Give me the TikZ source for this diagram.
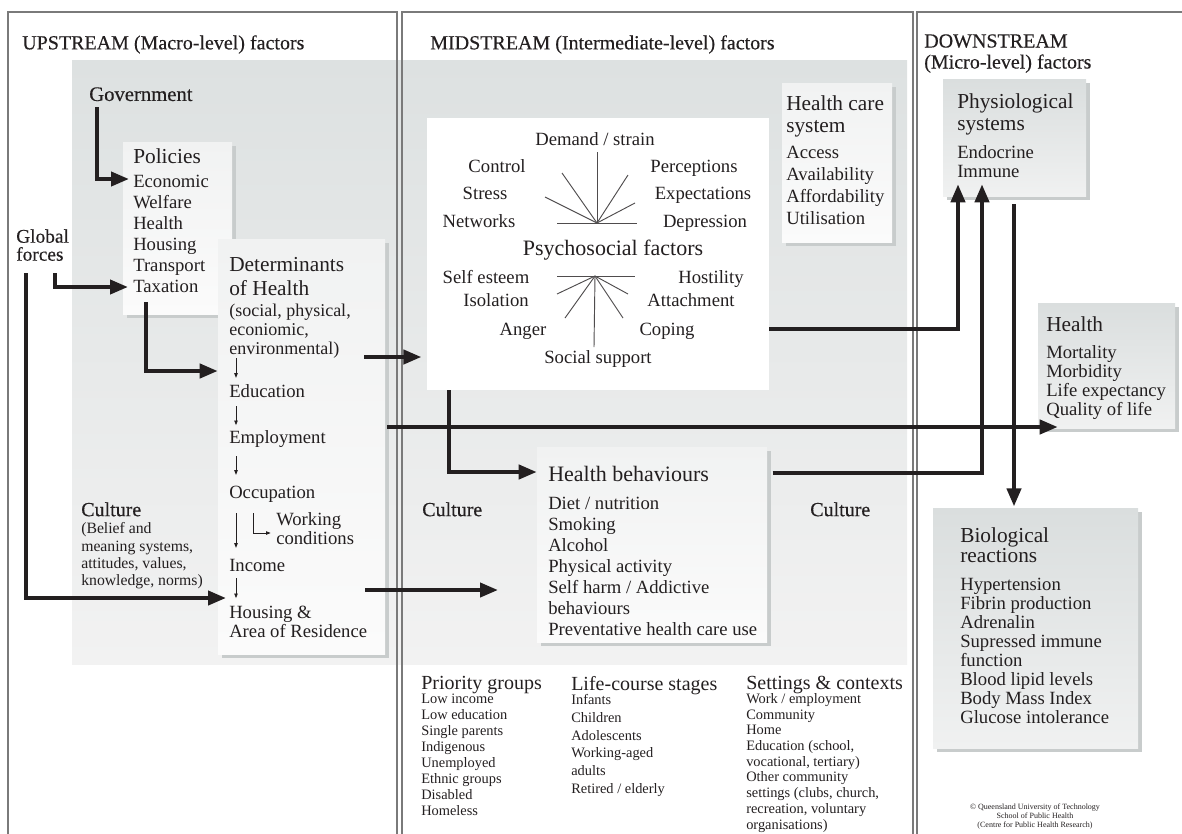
\documentclass[tikz,border=0pt]{standalone}
\usepackage{fontspec}
\setmainfont{Liberation Serif}
\newfontfamily\heavyserif[FakeBold=0.35]{Liberation Serif}
\usetikzlibrary{arrows.meta,fit,shadows}

\definecolor{ink}{HTML}{231F20}
\definecolor{bgtop}{HTML}{DDE1E1}
\definecolor{bgbot}{HTML}{F2F2F2}
\definecolor{boxtop}{HTML}{F1F2F2}
\definecolor{boxbot}{HTML}{FBFBFB}
\definecolor{dstop}{HTML}{DADEDE}
\definecolor{dsbot}{HTML}{F0F1F1}
\definecolor{shade}{HTML}{C8CCCC}
\definecolor{frame}{HTML}{7A7A7A}

\newcommand\fTitle{\heavyserif\fontsize{15}{15.75}\selectfont}
\newcommand\fHead{\fontsize{16}{16.5}\selectfont}
\newcommand\fList{\fontsize{14}{15.75}\selectfont}
\newcommand\fSub{\fontsize{13.5}{14.25}\selectfont}
\newcommand\fCult{\fontsize{11.8}{13}\selectfont}
\newcommand\fSmall{\fontsize{10.8}{12}\selectfont}
\newcommand\fCred{\fontsize{6}{6.75}\selectfont}

\begin{document}
\begin{tikzpicture}[x=0.75pt,y=-0.75pt,
    lbl/.style={anchor=north west,inner sep=0pt,align=left,text=ink},
    psyl/.style={anchor=base,inner sep=0pt,text=ink,font=\fList},
    ubox/.style={inner sep=0pt,top color=boxtop,bottom color=boxbot},
    sbox/.style={ubox,drop shadow={shadow xshift=3pt,shadow yshift=-3pt,fill=shade,opacity=1}},
    dbox/.style={inner sep=0pt,top color=dstop,bottom color=dsbot,
      drop shadow={shadow xshift=3pt,shadow yshift=-3pt,fill=shade,opacity=1}},
    col/.style={draw=frame,line width=0.9pt},
    big/.style={draw=ink,line width=3pt,-{Triangle[length=13.5pt,width=10.5pt]}},
    thinarr/.style={draw=ink,line width=0.6pt,-{Triangle[length=3.5pt,width=2.6pt]}},
    spoke/.style={draw=ink!80,line width=0.7pt}]
  \useasboundingbox (0,0) rectangle (1182,833);
  \clip (0,0) rectangle (1182,833);

  % shaded band and the three columns
  \node[inner sep=0pt,top color=bgtop,bottom color=bgbot,fit={(72,60) (907,664)}] (bg) {};
  \draw[col] (8,12) rectangle (397,860);
  \draw[col] (402,12) rectangle (913,860);
  \draw[col] (917,12) rectangle (1200,860);

  \node[lbl,font=\fTitle] (uptitle) at (22,35) {UPSTREAM (Macro-level) factors};
  \node[lbl,font=\fTitle] (midtitle) at (430,35) {MIDSTREAM (Intermediate-level) factors};
  \node[lbl,font=\fTitle] (downtitle) at (924,34) {DOWNSTREAM\\(Micro-level) factors};

  % boxes
  \node[sbox,fit={(123,142) (232,314)}] (policies) {};
  \node[sbox,fit={(218,239) (385,654)}] (dets) {};
  \node[inner sep=0pt,fill=white,fit={(427,118) (769,390)}] (psy) {};
  \node[sbox,fit={(782,83) (892,242)}] (hcs) {};
  \node[dbox,fit={(943,79) (1086,196)}] (phys) {};
  \node[dbox,fit={(1038,303) (1175,428)}] (health) {};
  \node[sbox,fit={(537,447) (767,642)}] (behav) {};
  \node[dbox,fit={(933,508) (1138,748)}] (bio) {};

  % upstream
  \node[lbl,font=\heavyserif\fontsize{15.5}{16}\selectfont] (gov) at (89,87) {Government};
  \node[lbl,font=\heavyserif\fontsize{14.5}{13.5}\selectfont] (glob) at (16,229) {Global\\forces};
  \node[lbl,font=\fHead] (polhead) at (133,148.5) {Policies};
  \node[lbl,font=\fList] (pollist) at (133,174.5) {Economic\\Welfare\\Health\\Housing\\Transport\\Taxation};
  \node[lbl,font=\fontsize{16}{18}\selectfont] (dethead) at (229,257.5) {Determinants\\of Health};
  \node[lbl,font=\fSub] (detsub) at (229,303.5) {(social, physical,\\econiomic,\\environmental)};
  \node[lbl,font=\fList] (edu) at (229,384.5) {Education};
  \node[lbl,font=\fList] (emp) at (229,430.5) {Employment};
  \node[lbl,font=\fList] (occ) at (229,485.5) {Occupation};
  \node[lbl,font=\fontsize{14}{14.25}\selectfont] (workc) at (276,512.5) {Working\\conditions};
  \node[lbl,font=\fList] (inc) at (229,558.5) {Income};
  \node[lbl,font=\fontsize{14}{14.25}\selectfont] (hous) at (229,605.5) {Housing \&\\Area of Residence};
  \node[lbl,font=\heavyserif\fontsize{15}{16}\selectfont] (culthead) at (81,502) {Culture};
  \node[lbl,font=\fCult] (cultsub) at (81,522.5) {(Belief and\\meaning systems,\\attitudes, values,\\knowledge, norms)};

  % psychosocial factors
  \node[psyl] (demand) at (595,145) {Demand / strain};
  \node[psyl] (control) at (497,172) {Control};
  \node[psyl] (percep) at (694,172) {Perceptions};
  \node[psyl] (stress) at (485,199) {Stress};
  \node[psyl] (expect) at (703,199) {Expectations};
  \node[psyl] (networks) at (479,227) {Networks};
  \node[psyl] (depress) at (705,227) {Depression};
  \node[psyl,font=\fontsize{16.5}{17}\selectfont] (psyhead) at (613,255) {Psychosocial factors};
  \node[psyl] (esteem) at (486,283) {Self esteem};
  \node[psyl] (hostil) at (711,283) {Hostility};
  \node[psyl] (isol) at (496,306) {Isolation};
  \node[psyl] (attach) at (691,306) {Attachment};
  \node[psyl] (anger) at (523,335) {Anger};
  \node[psyl] (coping) at (667,335) {Coping};
  \node[psyl] (support) at (598,363) {Social support};
  \coordinate (hubup) at (597,223);
  \coordinate (hubdown) at (595,276);
  \foreach \px/\py in {597/152,562/173,545/197,557/223,637/223,628/175,635/203}
    \draw[spoke] (hubup) -- (\px,\py);
  \foreach \px/\py in {557/276,635/276,594/347,557/294,565/318,628/294,623/318}
    \draw[spoke] (hubdown) -- (\px,\py);

  % midstream
  \node[lbl,font=\fHead] (hcshead) at (786,95.5) {Health care\\system};
  \node[lbl,font=\fontsize{14}{16.5}\selectfont] (hcslist) at (786,145.5) {Access\\Availability\\Affordability\\Utilisation};
  \node[lbl,font=\fontsize{16.5}{17}\selectfont] (behhead) at (548,466) {Health behaviours};
  \node[lbl,font=\fList] (behlist) at (548,496.5) {Diet / nutrition\\Smoking\\Alcohol\\Physical activity\\Self harm / Addictive\\behaviours\\Preventative health care use};
  \node[lbl,font=\heavyserif\fontsize{15}{16}\selectfont] (cultmid) at (422,502) {Culture};
  \node[lbl,font=\heavyserif\fontsize{15}{16}\selectfont] (cultright) at (810,502) {Culture};
  \node[lbl,font=\fontsize{15}{16}\selectfont] (priohead) at (421,676) {Priority groups};
  \node[lbl,font=\fSmall] (priolist) at (421,694) {Low income\\Low education\\Single parents\\Indigenous\\Unemployed\\Ethnic groups\\Disabled\\Homeless};
  \node[lbl,font=\fontsize{15}{16}\selectfont] (lifehead) at (571,676) {Life-course stages};
  \node[lbl,font=\fontsize{10.8}{13.35}\selectfont] (lifelist) at (571,694) {Infants\\Children\\Adolescents\\Working-aged\\adults\\Retired / elderly};
  \node[lbl,font=\fontsize{15}{16}\selectfont] (setthead) at (746,676) {Settings \& contexts};
  \node[lbl,font=\fontsize{10.8}{11.8}\selectfont] (settlist) at (746,693) {Work / employment\\Community\\Home\\Education (school,\\vocational, tertiary)\\Other community\\settings (clubs, church,\\recreation, voluntary\\organisations)};

  % downstream
  \node[lbl,font=\fHead] (physhead) at (957,93.5) {Physiological\\systems};
  \node[lbl,font=\fontsize{14}{14.25}\selectfont] (physlist) at (957,145.5) {Endocrine\\Immune};
  \node[lbl,font=\fHead] (healthhead) at (1046,316.5) {Health};
  \node[lbl,font=\fontsize{14}{14.25}\selectfont] (healthlist) at (1046,345.5) {Mortality\\Morbidity\\Life expectancy\\Quality of life};
  \node[lbl,font=\fontsize{16}{15}\selectfont] (biohead) at (960,527.5) {Biological\\reactions};
  \node[lbl,font=\fontsize{14}{14.25}\selectfont] (biolist) at (960,577.5) {Hypertension\\Fibrin production\\Adrenalin\\Supressed immune\\function\\Blood lipid levels\\Body Mass Index\\Glucose intolerance};
  \node[align=center,inner sep=0pt,text=ink,font=\fCred] (credit) at (1035,817) {© Queensland University of Technology\\School of Public Health\\(Centre for Public Health Research)};

  % arrow ends
  \coordinate (polin1) at (129,179);
  \coordinate (polin2) at (128,287);
  \coordinate (polout) at (146,302);
  \coordinate (housin) at (226,598);
  \coordinate (detout) at (364,357);
  \coordinate (empout) at (387,427);
  \coordinate (housout) at (365,590);
  \coordinate (behin) at (498,590);

  % thick arrows
  \draw[big] ([yshift=-4.5pt]gov.south -| 97,0) |- (polin1);
  \draw[big] ([yshift=-9pt]glob.south -| 55,0) |- (polin2);
  \draw[big] ([yshift=-9pt]glob.south -| 26,0) |- (housin);
  \draw[big] (polout) |- (dets.west |- 0,371);
  \draw[big] (detout) -- ([xshift=-4pt]psy.west |- detout);
  \draw[big] (empout) -- ([xshift=15pt]health.west |- empout);
  \draw[big] (psy.south -| 449,0) |- (behav.west |- 0,472);
  \draw[big] (housout) -- (behin);
  \draw[big] (psy.east |- 0,329) -| ([yshift=9pt]phys.south -| 958,0);
  \draw[big] ([xshift=4pt]behav.east |- 0,473) -| ([yshift=9pt]phys.south -| 982,0);
  \draw[big] ([yshift=-6pt]phys.south -| 1014,0) -- ([yshift=1pt]bio.north -| 1014,0);

  % small arrows inside the determinants
  \draw[thinarr] (detsub.south -| 236,0) -- ([yshift=5pt]edu.north -| 236,0);
  \draw[thinarr] ([yshift=-6pt]edu.south -| 236,0) -- ([yshift=4pt]emp.north -| 236,0);
  \draw[thinarr] ([yshift=-6pt]emp.south -| 236,0) -- ([yshift=8pt]occ.north -| 236,0);
  \draw[thinarr] ([yshift=-8pt]occ.south -| 236,0) -- ([yshift=8pt]inc.north -| 236,0);
  \draw[thinarr] ([yshift=-5pt]inc.south -| 236,0) -- ([yshift=5.5pt]hous.north -| 236,0);
  \draw[thinarr] ([yshift=-8pt]occ.south -| 253,0) |- ([xshift=-4pt]workc.west |- 0,533);
\end{tikzpicture}
\end{document}
